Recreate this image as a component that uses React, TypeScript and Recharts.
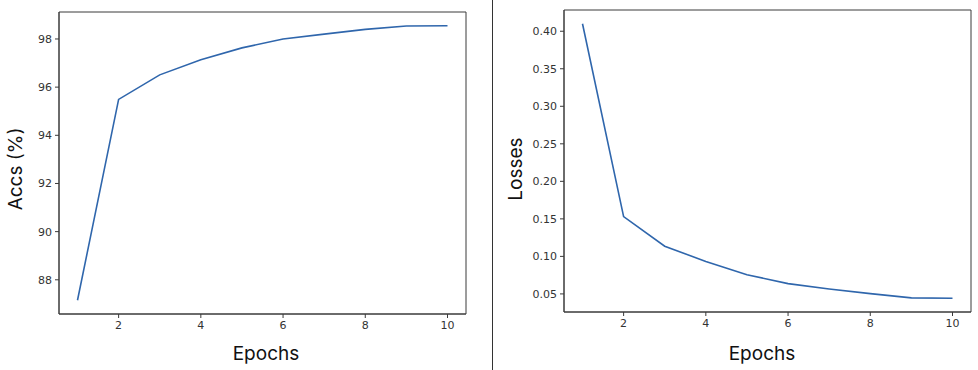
import React from 'react';
import { LineChart, Line, XAxis, YAxis, ReferenceArea, Label } from 'recharts';

const epochs = [1, 2, 3, 4, 5, 6, 7, 8, 9, 10];
const accs = [87.15, 95.49, 96.51, 97.14, 97.63, 98.0, 98.2, 98.4, 98.54, 98.55];
const losses = [0.41, 0.153, 0.1136, 0.0932, 0.0756, 0.0637, 0.0566, 0.0504, 0.0447, 0.0442];

const epochTicks = [2, 4, 6, 8, 10];
const accTicks = [88, 90, 92, 94, 96, 98];
const lossTicks = [0.05, 0.1, 0.15, 0.2, 0.25, 0.3, 0.35, 0.4];

const accData = epochs.map((e, i) => ({ epoch: e, acc: accs[i] }));
const lossData = epochs.map((e, i) => ({ epoch: e, loss: losses[i] }));

const LINE = '#2f66ac';
const FRAME = '#3a3a3a';
const tickStyle = { fill: '#333', fontSize: 11, fontFamily: 'DejaVu Sans' };
const titleFont = 'Inter, "Open Sans", sans-serif';

const xDomain: [number, number] = [0.55, 10.45];
const accDomain: [number, number] = [86.58, 99.12];
const lossDomain: [number, number] = [0.0259, 0.4283];

const YTitle = (text: string, x: number, y: number) => () => (
  <text
    transform={`translate(${x},${y}) rotate(-90)`}
    textAnchor="middle"
    dominantBaseline="central"
    fontSize={19}
    fontFamily={titleFont}
    fill="#111"
  >
    {text}
  </text>
);

const XTitle = (x: number, y: number) => () => (
  <text x={x} y={y} textAnchor="middle" fontSize={19} fontFamily={titleFont} fill="#111">
    Epochs
  </text>
);

export default function App() {
  return (
    <div style={{ position: 'fixed', left: 0, top: 0, width: 978, height: 370, background: '#fff' }}>
      <div style={{ position: 'absolute', left: 0, top: 0 }}>
        <LineChart width={490} height={370} data={accData} margin={{ top: 12, right: 24, left: 0, bottom: 0 }}>
          <XAxis
            dataKey="epoch"
            type="number"
            domain={xDomain}
            ticks={epochTicks}
            allowDataOverflow
            height={56}
            tick={tickStyle}
            tickSize={4}
            tickMargin={3}
            axisLine={{ stroke: FRAME }}
            tickLine={{ stroke: FRAME }}
          >
            <Label content={XTitle(266, 360)} />
          </XAxis>
          <YAxis
            type="number"
            domain={accDomain}
            ticks={accTicks}
            allowDataOverflow
            width={59}
            tick={tickStyle}
            tickSize={4}
            tickMargin={3}
            axisLine={{ stroke: FRAME }}
            tickLine={{ stroke: FRAME }}
          >
            <Label content={YTitle('Accs (%)', 15, 169)} />
          </YAxis>
          <ReferenceArea x1={xDomain[0]} x2={xDomain[1]} y1={accDomain[0]} y2={accDomain[1]} fill="none" stroke={FRAME} strokeWidth={1} />
          <Line type="linear" dataKey="acc" stroke={LINE} strokeWidth={1.6} dot={false} isAnimationActive={false} />
        </LineChart>
      </div>
      <div style={{ position: 'absolute', left: 491.5, top: 0, width: 1, height: 370, background: '#333' }} />
      <div style={{ position: 'absolute', left: 490, top: 0 }}>
        <LineChart width={488} height={370} data={lossData} margin={{ top: 10, right: 7, left: 0, bottom: 0 }}>
          <XAxis
            dataKey="epoch"
            type="number"
            domain={xDomain}
            ticks={epochTicks}
            allowDataOverflow
            height={58}
            tick={tickStyle}
            tickSize={4}
            tickMargin={3}
            axisLine={{ stroke: FRAME }}
            tickLine={{ stroke: FRAME }}
          >
            <Label content={XTitle(272, 360)} />
          </XAxis>
          <YAxis
            type="number"
            domain={lossDomain}
            ticks={lossTicks}
            allowDataOverflow
            width={74}
            tick={tickStyle}
            tickSize={4}
            tickMargin={3}
            tickFormatter={(v: number) => v.toFixed(2)}
            axisLine={{ stroke: FRAME }}
            tickLine={{ stroke: FRAME }}
          >
            <Label content={YTitle('Losses', 25, 169)} />
          </YAxis>
          <ReferenceArea x1={xDomain[0]} x2={xDomain[1]} y1={lossDomain[0]} y2={lossDomain[1]} fill="none" stroke={FRAME} strokeWidth={1} />
          <Line type="linear" dataKey="loss" stroke={LINE} strokeWidth={1.6} dot={false} isAnimationActive={false} />
        </LineChart>
      </div>
    </div>
  );
}
